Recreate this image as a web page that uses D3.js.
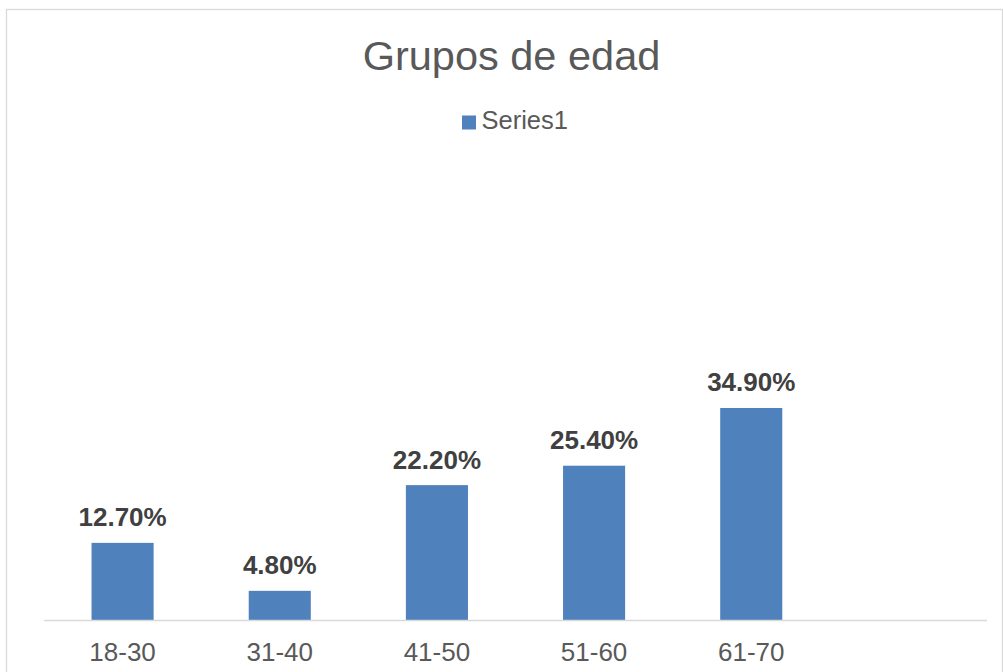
<!DOCTYPE html>
<html><head><meta charset="utf-8">
<script src="https://cdn.jsdelivr.net/npm/d3@7"></script>
<style>body{margin:0;background:#fff}svg{display:block}text{font-family:"Liberation Sans",Arial,sans-serif}</style>
</head><body>
<svg id="c" width="1003" height="672"></svg>
<script>
const title = "Grupos de edad";
const seriesName = "Series1";
const categories = ["18-30","31-40","41-50","51-60","61-70"];
const values = [0.127, 0.048, 0.222, 0.254, 0.349];
const slotCount = 6; // the axis has one extra empty slot at the right

const svg = d3.select("#c");
const W = 1003, H = 672;
svg.append("rect").attr("x",6.5).attr("y",9.5).attr("width",996).attr("height",700)
  .attr("fill","#fff").attr("stroke","#d9d9d9").attr("stroke-width",1.3);

const left = 44, right = 987, base = 620;
const slots = categories.concat(d3.range(slotCount - categories.length).map(i => "__empty" + i));
const x = d3.scaleBand().domain(slots).range([left, right]).paddingInner(0.605).paddingOuter(0.3025);
const y = d3.scaleLinear().domain([0, 0.40]).range([base, base - 243]);

svg.append("text").attr("x",511.5).attr("y",70).attr("text-anchor","middle")
  .attr("font-size",41.5).attr("fill","#595959").text(title);

svg.append("rect").attr("x",462).attr("y",115.5).attr("width",14).attr("height",14).attr("fill","#4f81bd");
svg.append("text").attr("x",481.5).attr("y",129).attr("font-size",25.5).attr("fill","#595959").text(seriesName);

const data = categories.map((c,i)=>({c, v: values[i]}));
svg.selectAll("rect.bar").data(data).join("rect").attr("class","bar")
  .attr("x", d => x(d.c)).attr("width", x.bandwidth())
  .attr("y", d => y(d.v)).attr("height", d => base - y(d.v))
  .attr("fill","#4f81bd");

svg.append("line").attr("x1",left).attr("x2",right).attr("y1",base+0.5).attr("y2",base+0.5)
  .attr("stroke","#d9d9d9").attr("stroke-width",1.5);

svg.selectAll("text.lbl").data(data).join("text").attr("class","lbl")
  .attr("x", d => x(d.c) + x.bandwidth()/2).attr("y", d => y(d.v) - 16.5)
  .attr("text-anchor","middle").attr("font-size",26).attr("font-weight","bold").attr("fill","#404040")
  .text(d => (d.v*100).toFixed(2) + "%");

svg.selectAll("text.cat").data(categories).join("text").attr("class","cat")
  .attr("x", d => x(d) + x.bandwidth()/2).attr("y", 661)
  .attr("text-anchor","middle").attr("font-size",26).attr("fill","#595959").text(d => d);
</script>
</body></html>
